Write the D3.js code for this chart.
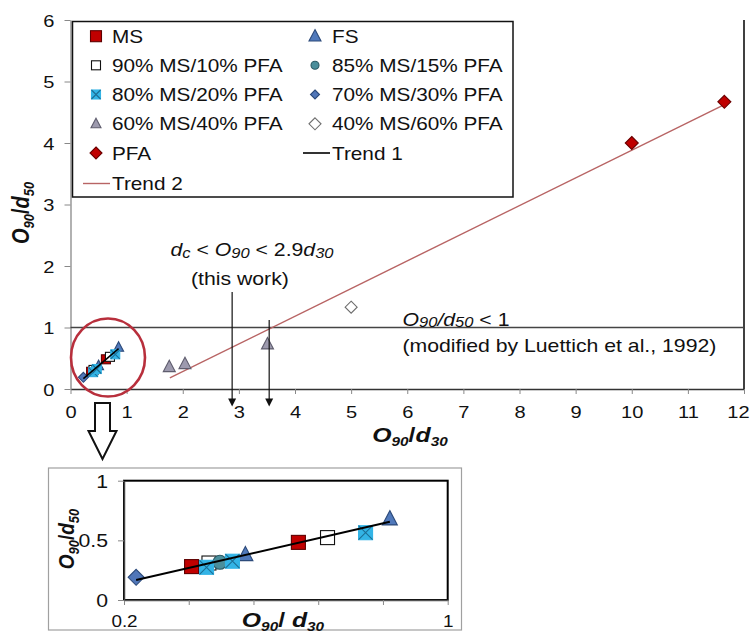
<!DOCTYPE html>
<html>
<head>
<meta charset="utf-8">
<script src="https://cdn.jsdelivr.net/npm/d3@7"></script>
<style>
  body { margin: 0; background: #fff; }
  svg { display: block; }
  text { font-family: "Liberation Sans", Arial, sans-serif; fill: #111; }
</style>
</head>
<body>
<svg id="chart" width="754" height="633"></svg>
<script>
// Horizontal stretch applied to all text glyphs
const SX = 1.18;

// O90/d30 (x) and O90/d50 (y) for each material
const msX = [0.367, 0.631];
const msY = [0.28, 0.483];
const fsX = [0.50, 0.857];
const fsY = [0.38, 0.68];
const ms90X = [0.41, 0.703];
const ms90Y = [0.31, 0.523];
const ms85X = [0.437];
const ms85Y = [0.316];
const ms80X = [0.404, 0.468, 0.797];
const ms80Y = [0.274, 0.325, 0.564];
const ms70X = [0.23];
const ms70Y = [0.19];
const ms60X = [1.76, 2.04, 3.51];
const ms60Y = [0.36, 0.41, 0.73];
const ms40X = [5.0];
const ms40Y = [1.33];
const pfaX = [10.0, 11.65];
const pfaY = [4.0, 4.67];

// Linear trend lines: [slope, intercept] and x extent
const trend1Coef = [0.778, -0.011];
const trend1Range = [0.23, 0.857];
const trend2Coef = [0.45, -0.617];
const trend2Range = [1.77, 11.65];

// Criterion lines
const criterionY = 1;
const arrowXs = [2.88, 3.54];

// Tick values and labels
const mainXTicks = d3.range(0, 13);
const mainYTicks = d3.range(0, 7);
const insetXTicks = [0.2, 0.36, 0.52, 0.68, 0.84, 1.0];
const insetXLabels = ["0.2", "", "", "", "", "1"];
const insetYTicks = [0, 0.5, 1];
const insetYLabels = ["0", "0.5", "1"];

const series = [
  { name: "MS", x: msX, y: msY, shape: "square", fill: "#c00000", stroke: "#5e0000", col: 0, row: 0, ls: 11, ms: 9, is: 14 },
  { name: "FS", x: fsX, y: fsY, shape: "triangle", fill: "#5079bb", stroke: "#2c4a7a", col: 1, row: 0, ls: 12, ms: 10, is: 15 },
  { name: "90% MS/10% PFA", x: ms90X, y: ms90Y, shape: "square", fill: "#ffffff", stroke: "#111111", col: 0, row: 1, ls: 9, ms: 9, is: 14 },
  { name: "85% MS/15% PFA", x: ms85X, y: ms85Y, shape: "circle", fill: "#4a8e9b", stroke: "#2b5a64", col: 1, row: 1, ls: 8, ms: 9, is: 14 },
  { name: "80% MS/20% PFA", x: ms80X, y: ms80Y, shape: "xsquare", fill: "#33b4e6", stroke: "#1c6f96", col: 0, row: 2, ls: 9, ms: 9, is: 14 },
  { name: "70% MS/30% PFA", x: ms70X, y: ms70Y, shape: "diamond", fill: "#5076b8", stroke: "#2c4a7a", col: 1, row: 2, ls: 9, ms: 10, is: 16 },
  { name: "60% MS/40% PFA", x: ms60X, y: ms60Y, shape: "triangle", fill: "#9d9aae", stroke: "#5f5d6e", col: 0, row: 3, ls: 10, ms: 12, is: 12 },
  { name: "40% MS/60% PFA", x: ms40X, y: ms40Y, shape: "diamond", fill: "#ffffff", stroke: "#6d6d6d", col: 1, row: 3, ls: 12, ms: 12, is: 12 },
  { name: "PFA", x: pfaX, y: pfaY, shape: "diamond", fill: "#c00000", stroke: "#6a0000", col: 0, row: 4, ls: 12, ms: 13, is: 13 }
];

const trends = [
  { name: "Trend 1", coef: trend1Coef, range: trend1Range, color: "#000000", width: 1.6, col: 1, row: 4 },
  { name: "Trend 2", coef: trend2Coef, range: trend2Range, color: "#b86464", width: 1.4, col: 0, row: 5 }
];

const svg = d3.select("#chart");

// Text helper: parts = [[string, {italic, bold, size, dy}]]
function label(parent, x, y, anchor, size, parts, rotate) {
  const tr = rotate
    ? `translate(${x},${y}) scale(${SX},1) rotate(-90)`
    : `translate(${x},${y}) scale(${SX},1)`;
  const t = parent.append("text")
    .attr("transform", tr)
    .attr("text-anchor", anchor)
    .style("font-size", size + "px");
  let shift = 0;
  parts.forEach(([s, o = {}]) => {
    const target = o.dy || 0;
    const sp = t.append("tspan").text(s).attr("dy", target - shift);
    shift = target;
    if (o.italic) sp.style("font-style", "italic");
    if (o.bold) sp.style("font-weight", "bold");
    if (o.size) sp.style("font-size", o.size + "px");
  });
  return t;
}

function marker(g, s, cx, cy, size) {
  const h = size / 2;
  const sw = 1.1;
  switch (s.shape) {
    case "square":
      g.append("rect").attr("x", cx - h).attr("y", cy - h).attr("width", size).attr("height", size)
        .attr("fill", s.fill).attr("stroke", s.stroke).attr("stroke-width", sw);
      break;
    case "xsquare":
      g.append("rect").attr("x", cx - h).attr("y", cy - h).attr("width", size).attr("height", size)
        .attr("fill", s.fill).attr("stroke", s.fill).attr("stroke-width", sw);
      g.append("path").attr("d", `M${cx - h},${cy - h}L${cx + h},${cy + h}M${cx + h},${cy - h}L${cx - h},${cy + h}`)
        .attr("stroke", s.stroke).attr("stroke-width", 1.1).attr("fill", "none");
      break;
    case "triangle":
      g.append("path").attr("d", `M${cx},${cy - size * 0.55}L${cx + h},${cy + size * 0.4}L${cx - h},${cy + size * 0.4}Z`)
        .attr("fill", s.fill).attr("stroke", s.stroke).attr("stroke-width", sw);
      break;
    case "diamond":
      g.append("path").attr("d", `M${cx},${cy - h}L${cx + h},${cy}L${cx},${cy + h}L${cx - h},${cy}Z`)
        .attr("fill", s.fill).attr("stroke", s.stroke).attr("stroke-width", sw);
      break;
    case "circle":
      g.append("circle").attr("cx", cx).attr("cy", cy).attr("r", h)
        .attr("fill", s.fill).attr("stroke", s.stroke).attr("stroke-width", sw);
      break;
  }
}

/* ---------------- main chart ---------------- */
const x = d3.scaleLinear().domain([0, 12]).range([70.5, 744]);
const y = d3.scaleLinear().domain([0, 6]).range([389, 20]);
const main = svg.append("g");

// right border of plot area
main.append("line").attr("x1", x(12)).attr("x2", x(12)).attr("y1", y(6)).attr("y2", y(0))
  .attr("stroke", "#000").attr("stroke-width", 1.5);

const xAxis = main.append("g").attr("transform", `translate(0,${y(0)})`)
  .call(d3.axisBottom(x).tickValues(mainXTicks).tickSize(5).tickSizeOuter(0).tickFormat(d3.format("d")));
xAxis.select(".domain").attr("stroke", "#333").attr("stroke-width", 1.5);
xAxis.selectAll(".tick line").attr("stroke", "#888");
xAxis.selectAll(".tick text").attr("y", 0).attr("dy", 0)
  .attr("transform", d => `translate(${d === 12 ? -6 : 0},29) scale(${SX},1)`)
  .style("font-size", "17px").style("font-family", '"Liberation Sans", Arial, sans-serif').attr("fill", "#111");

const yAxis = main.append("g").attr("transform", `translate(${x(0)},0)`)
  .call(d3.axisLeft(y).tickValues(mainYTicks).tickSize(6).tickSizeOuter(0).tickFormat(d3.format("d")));
yAxis.select(".domain").attr("stroke", "#888").attr("stroke-width", 1.3);
yAxis.selectAll(".tick line").attr("stroke", "#888");
yAxis.selectAll(".tick text").attr("x", 0).attr("dy", 0)
  .attr("transform", `translate(-16,6) scale(${SX},1)`)
  .style("font-size", "17px").style("font-family", '"Liberation Sans", Arial, sans-serif').attr("fill", "#111");

// horizontal criterion line O90/d50 = 1
main.append("line").attr("x1", x(0)).attr("x2", x(12)).attr("y1", y(criterionY)).attr("y2", y(criterionY))
  .attr("stroke", "#444").attr("stroke-width", 1.3);

// Trend 2
const trendPath = (t, sx, sy) => d3.line().x(d => sx(d)).y(d => sy(t.coef[0] * d + t.coef[1]))(t.range);
main.append("path").attr("d", trendPath(trends[1], x, y)).attr("fill", "none")
  .attr("stroke", trends[1].color).attr("stroke-width", trends[1].width);

// markers
series.forEach(s => s.x.forEach((v, i) => marker(main, s, x(v), y(s.y[i]), s.ms)));

// Trend 1
main.append("path").attr("d", trendPath(trends[0], x, y)).attr("fill", "none")
  .attr("stroke", trends[0].color).attr("stroke-width", trends[0].width);

// circled cluster
main.append("ellipse").attr("cx", 108).attr("cy", 357.5).attr("rx", 37).attr("ry", 39)
  .attr("fill", "none").attr("stroke", "#b82f3c").attr("stroke-width", 2.6);

// arrows for the filtration criterion
const arrowTops = [292, 320];
arrowXs.forEach((v, i) => {
  const ax = x(v), tip = 406.5;
  main.append("line").attr("x1", ax).attr("x2", ax).attr("y1", arrowTops[i]).attr("y2", tip - 6)
    .attr("stroke", "#111").attr("stroke-width", 1.2);
  main.append("path").attr("d", `M${ax - 4},${tip - 8}L${ax + 4},${tip - 8}L${ax},${tip}Z`).attr("fill", "#111");
});

// annotations
label(main, 170.5, 256, "start", 18, [
  ["d", { italic: true }], ["c", { italic: true, size: 14, dy: 2 }], [" < "],
  ["O", { italic: true }], ["90", { italic: true, size: 14, dy: 2 }], [" < 2.9"],
  ["d", { italic: true }], ["30", { italic: true, size: 14, dy: 2 }]
]);
label(main, 191, 285, "start", 18, [["(this work)"]]);
label(main, 402.5, 326, "start", 18, [
  ["O", { italic: true }], ["90", { italic: true, size: 14, dy: 1 }], ["/", { italic: true }],
  ["d", { italic: true }], ["50", { italic: true, size: 14, dy: 1 }], [" < 1"]
]);
label(main, 402.5, 352, "start", 18, [["(modified by Luettich et al., 1992)"]]);

// axis titles
label(main, 410, 442, "middle", 21, [
  ["O", { italic: true, bold: true }], ["90", { italic: true, bold: true, size: 13, dy: 4 }],
  ["/", { bold: true }], ["d", { italic: true, bold: true }], ["30", { italic: true, bold: true, size: 13, dy: 4 }]
]);
label(main, 29, 213, "middle", 20, [
  ["O", { italic: true, bold: true }], ["90", { italic: true, bold: true, size: 13, dy: 4 }],
  ["/", { bold: true }], ["d", { italic: true, bold: true }], ["50", { italic: true, bold: true, size: 13, dy: 4 }]
], true);

// legend
const legend = main.append("g");
legend.append("rect").attr("x", 72.5).attr("y", 21.5).attr("width", 440.5).attr("height", 175.5)
  .attr("fill", "#fff").attr("stroke", "#111").attr("stroke-width", 1.5);
const colMarker = [96, 315], colText = [112, 332], rowBase = [42.7, 71.8, 101, 130.3, 159.5, 190];
series.forEach(s => {
  marker(legend, s, colMarker[s.col], rowBase[s.row] - 6.5, s.ls);
  label(legend, colText[s.col], rowBase[s.row], "start", 17.6, [[s.name]]);
});
trends.forEach(t => {
  const cy = rowBase[t.row] - 6.5;
  legend.append("line").attr("x1", colText[t.col] - 29).attr("x2", colText[t.col] - 2)
    .attr("y1", cy).attr("y2", cy).attr("stroke", t.color).attr("stroke-width", t.width);
  label(legend, colText[t.col], rowBase[t.row], "start", 17.6, [[t.name]]);
});

// hollow pointer arrow towards the enlarged view
main.append("path")
  .attr("d", "M95,403L110,403L110,431L116.5,431L102.5,459L88.5,431L95,431Z")
  .attr("fill", "#fff").attr("stroke", "#111").attr("stroke-width", 2).attr("stroke-linejoin", "miter");

/* ---------------- enlarged view ---------------- */
const xi = d3.scaleLinear().domain([0.2, 1]).range([124, 447.7]);
const yi = d3.scaleLinear().domain([0, 1]).range([600, 480.7]);
const inset = svg.append("g");

inset.append("rect").attr("x", 48.5).attr("y", 468).attr("width", 413).attr("height", 162)
  .attr("fill", "#fff").attr("stroke", "#a0a0a0").attr("stroke-width", 1.2);
inset.append("rect").attr("x", xi(0.2)).attr("y", yi(1)).attr("width", xi(1) - xi(0.2)).attr("height", yi(0) - yi(1))
  .attr("fill", "none").attr("stroke", "#000").attr("stroke-width", 2);

const xiAxis = inset.append("g").attr("transform", `translate(0,${yi(0)})`)
  .call(d3.axisBottom(xi).tickValues(insetXTicks).tickSize(5).tickSizeOuter(0).tickFormat((d, i) => insetXLabels[i]));
xiAxis.select(".domain").attr("stroke", "#555").attr("stroke-width", 1.5);
xiAxis.selectAll(".tick line").attr("stroke", "#888");
xiAxis.selectAll(".tick text").attr("y", 0).attr("dy", 0)
  .attr("transform", `translate(0,27) scale(${SX},1)`)
  .style("font-size", "16px").style("font-family", '"Liberation Sans", Arial, sans-serif').attr("fill", "#222");

const yiAxis = inset.append("g").attr("transform", `translate(${xi(0.2)},0)`)
  .call(d3.axisLeft(yi).tickValues(insetYTicks).tickSize(6).tickSizeOuter(0).tickFormat((d, i) => insetYLabels[i]));
yiAxis.select(".domain").attr("stroke", "#444").attr("stroke-width", 1.5);
yiAxis.selectAll(".tick line").attr("stroke", "#888");
yiAxis.selectAll(".tick text").attr("x", 0).attr("dy", 0)
  .attr("transform", `translate(-16,6.5) scale(${SX},1)`)
  .style("font-size", "18px").style("font-family", '"Liberation Sans", Arial, sans-serif').attr("fill", "#222");

series.filter(s => s.x.every(v => v <= 1)).forEach(s =>
  s.x.forEach((v, i) => marker(inset, s, xi(v), yi(s.y[i]), s.is)));

inset.append("path").attr("d", trendPath(trends[0], xi, yi)).attr("fill", "none")
  .attr("stroke", "#000").attr("stroke-width", 2);

label(inset, 283, 627, "middle", 21, [
  ["O", { italic: true, bold: true }], ["90", { italic: true, bold: true, size: 13, dy: 4 }],
  ["/", { bold: true }], [" d", { italic: true, bold: true, dy: 0 }], ["30", { italic: true, bold: true, size: 13, dy: 4 }]
]);
label(inset, 74, 539, "middle", 19, [
  ["O", { italic: true, bold: true }], ["90", { italic: true, bold: true, size: 13, dy: 4 }],
  ["/", { bold: true }], ["d", { italic: true, bold: true }], ["50", { italic: true, bold: true, size: 13, dy: 4 }]
], true);
</script>
</body>
</html>
